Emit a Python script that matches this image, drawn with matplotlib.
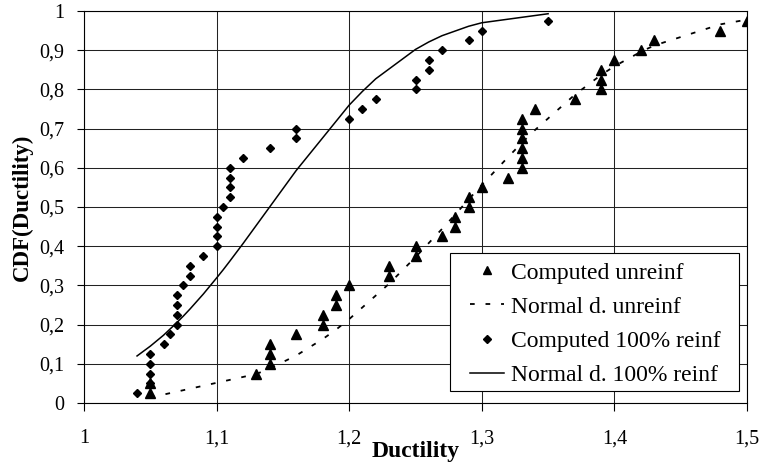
import matplotlib
matplotlib.use("Agg")
import matplotlib.pyplot as plt
from matplotlib.patches import Rectangle

plt.rcParams['font.family'] = ['Liberation Serif', 'DejaVu Serif']

# Computed, unreinforced
unreinf_x = [1.05, 1.05, 1.13, 1.14, 1.14, 1.14, 1.16, 1.18, 1.18, 1.19, 1.19, 1.20,
             1.23, 1.23, 1.25, 1.25, 1.27, 1.28, 1.28, 1.29, 1.29, 1.30, 1.32,
             1.33, 1.33, 1.33, 1.33, 1.33, 1.33, 1.34, 1.37, 1.39, 1.39, 1.39,
             1.40, 1.42, 1.43, 1.48, 1.50]
unreinf_cdf = [0.025, 0.05, 0.075, 0.10, 0.125, 0.15, 0.175, 0.20, 0.225, 0.25, 0.275, 0.30,
               0.325, 0.35, 0.375, 0.40, 0.425, 0.45, 0.475, 0.50, 0.525, 0.55, 0.575,
               0.60, 0.625, 0.65, 0.675, 0.70, 0.725, 0.75, 0.775, 0.80, 0.825, 0.85,
               0.875, 0.90, 0.925, 0.95, 0.975]

# Normal distribution, unreinforced
norm_unreinf_x = [1.05, 1.13, 1.14, 1.16, 1.18, 1.19, 1.20, 1.23, 1.25, 1.27, 1.28, 1.29,
                  1.30, 1.32, 1.33, 1.34, 1.37, 1.39, 1.40, 1.42, 1.43, 1.48, 1.50]
norm_unreinf_cdf = [0.014, 0.074, 0.088, 0.121, 0.163, 0.187, 0.214, 0.304, 0.372, 0.444, 0.481, 0.519,
                    0.556, 0.628, 0.663, 0.696, 0.786, 0.837, 0.859, 0.896, 0.912, 0.966, 0.978]

# Computed, 100% reinforced
reinf_x = [1.04, 1.05, 1.05, 1.05, 1.05, 1.06, 1.065, 1.07, 1.07, 1.07, 1.07, 1.075,
           1.08, 1.08, 1.09, 1.10, 1.10, 1.10, 1.10, 1.105, 1.11, 1.11, 1.11, 1.11,
           1.12, 1.14, 1.16, 1.16, 1.20, 1.21, 1.22, 1.25, 1.25, 1.26, 1.26, 1.27,
           1.29, 1.30, 1.35]
reinf_cdf = [0.025, 0.05, 0.075, 0.10, 0.125, 0.15, 0.175, 0.20, 0.225, 0.25, 0.275, 0.30,
             0.325, 0.35, 0.375, 0.40, 0.425, 0.45, 0.475, 0.50, 0.525, 0.55, 0.575, 0.60,
             0.625, 0.65, 0.675, 0.70, 0.725, 0.75, 0.775, 0.80, 0.825, 0.85, 0.875, 0.90,
             0.925, 0.95, 0.975]

# Normal distribution, 100% reinforced
norm_reinf_x = [1.04, 1.05, 1.06, 1.065, 1.07, 1.075, 1.08, 1.09, 1.10, 1.105, 1.11, 1.12,
                1.14, 1.16, 1.20, 1.21, 1.22, 1.25, 1.26, 1.27, 1.29, 1.30, 1.35]
norm_reinf_cdf = [0.120, 0.145, 0.173, 0.189, 0.205, 0.222, 0.240, 0.278, 0.319, 0.340, 0.362, 0.407,
                  0.500, 0.593, 0.760, 0.795, 0.827, 0.902, 0.921, 0.937, 0.961, 0.970, 0.993]

x_ticks = [1.0, 1.1, 1.2, 1.3, 1.4, 1.5]
x_tick_labels = ['1', '1,1', '1,2', '1,3', '1,4', '1,5']
y_ticks = [0, 0.1, 0.2, 0.3, 0.4, 0.5, 0.6, 0.7, 0.8, 0.9, 1.0]
y_tick_labels = ['0', '0,1', '0,2', '0,3', '0,4', '0,5', '0,6', '0,7', '0,8', '0,9', '1']

W, H = 762, 467
fig = plt.figure(figsize=(W / 100, H / 100), dpi=100)
ax = fig.add_axes([84 / W, (H - 403) / H, 663 / W, 392 / H])

ax.plot(unreinf_x, unreinf_cdf, linestyle='none', marker='^', ms=6.5,
        color='black', label='Computed unreinf', zorder=4)
ax.plot(norm_unreinf_x, norm_unreinf_cdf, color='black', lw=1.3,
        dashes=(2.6, 6.0), label='Normal d. unreinf', zorder=3)
ax.plot(reinf_x, reinf_cdf, linestyle='none', marker='D', ms=4.5,
        color='black', label='Computed 100% reinf', zorder=4)
ax.plot(norm_reinf_x, norm_reinf_cdf, color='black', lw=1.1,
        label='Normal d. 100% reinf', zorder=3)

ax.set_xlim(1.0, 1.5)
ax.set_ylim(0, 1)
ax.set_xticks(x_ticks)
ax.set_xticklabels(x_tick_labels)
ax.set_yticks(y_ticks)
ax.set_yticklabels(y_tick_labels)
ax.grid(True, color='#222222', lw=0.75)
ax.set_axisbelow(True)
for s in ax.spines.values():
    s.set_color('black')
    s.set_linewidth(0.8)
ax.tick_params(axis='x', direction='out', length=6, width=0.8, pad=13, labelsize=14.5)
ax.tick_params(axis='y', direction='out', length=5, width=0.8, pad=9, labelsize=14.5)

fig.text(416 / W, 1 - 451 / H, 'Ductility', ha='center', va='center',
         fontsize=17, fontweight='bold')
fig.text(22 / W, 1 - 207.5 / H, 'CDF(Ductility)', ha='center', va='center',
         rotation=90, fontsize=16.5, fontweight='bold')

# legend frame (Excel-style box with wide side padding)
box = Rectangle((0.552, 0.0306), 0.988 - 0.552, 0.3827 - 0.0306,
                transform=ax.transAxes, facecolor='white', edgecolor='black',
                lw=0.8, zorder=6)
ax.add_patch(box)
leg = ax.legend(loc='center', bbox_to_anchor=(0.771, 0.2015), fontsize=17,
                frameon=False, handlelength=1.45, handletextpad=0.3,
                labelspacing=0.53, borderpad=0.0, borderaxespad=0,
                markerscale=0.8)
leg.set_zorder(7)

fig.savefig('out.png', dpi=100)
